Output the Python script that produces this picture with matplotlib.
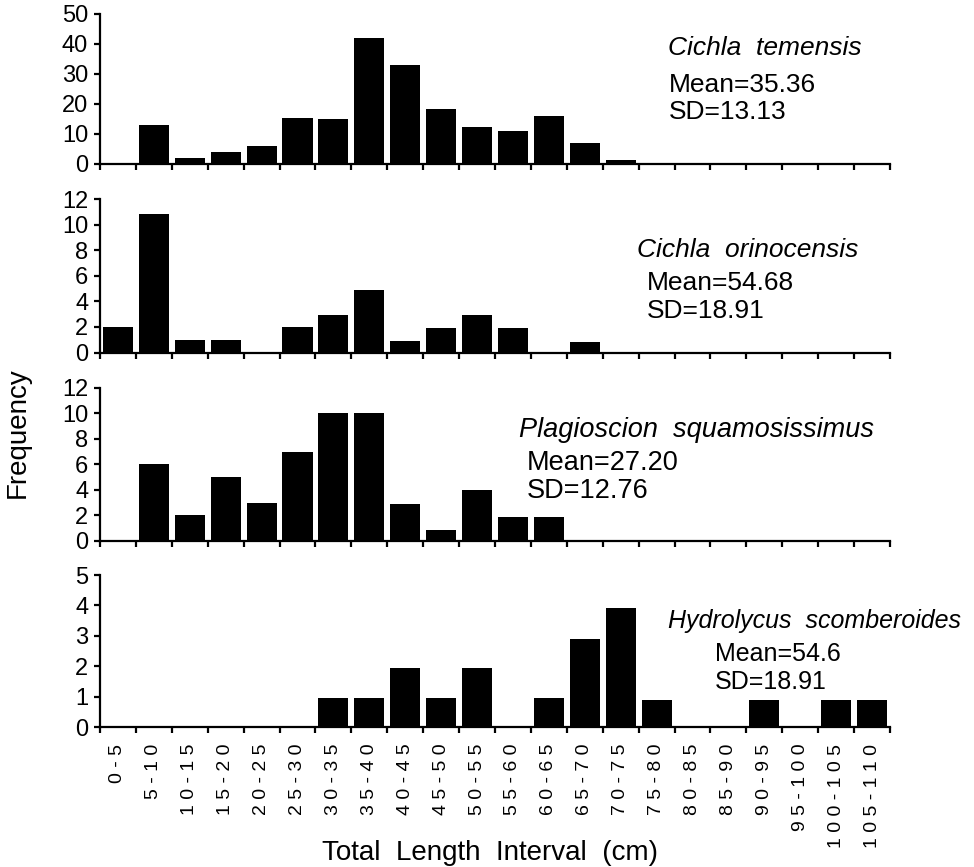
import matplotlib
matplotlib.use('Agg')
import matplotlib.pyplot as plt
import numpy as np

# ---- data ----
intervals = ["0-5", "5-10", "10-15", "15-20", "20-25", "25-30", "30-35", "35-40",
             "40-45", "45-50", "50-55", "55-60", "60-65", "65-70", "70-75", "75-80",
             "80-85", "85-90", "90-95", "95-100", "100-105", "105-110"]

temensis = [0, 13, 2, 4, 6, 15.5, 15, 42, 33, 18.5, 12.5, 11, 16, 7, 1.2,
            0, 0, 0, 0, 0, 0, 0]
orinocensis = [2, 10.8, 1, 1, 0, 2, 2.9, 4.9, 0.9, 1.9, 2.9, 1.9, 0, 0.8, 0,
               0, 0, 0, 0, 0, 0, 0]
plagioscion = [0, 6, 2, 5, 3, 7, 10, 10, 2.9, 0.85, 4, 1.9, 1.9, 0, 0,
               0, 0, 0, 0, 0, 0, 0]
hydrolycus = [0, 0, 0, 0, 0, 0, 0.95, 0.95, 1.95, 0.95, 1.95, 0, 0.95, 2.9, 3.9,
              0.9, 0, 0, 0.9, 0, 0.9, 0.9]

species = ["Cichla  temensis", "Cichla  orinocensis",
           "Plagioscion  squamosissimus", "Hydrolycus  scomberoides"]
means = ["Mean=35.36", "Mean=54.68", "Mean=27.20", "Mean=54.6"]
sds = ["SD=13.13", "SD=18.91", "SD=12.76", "SD=18.91"]
ymax = [50, 12, 12, 5]
ystep = [10, 2, 2, 1]
series = [temensis, orinocensis, plagioscion, hydrolycus]

plt.rcParams['font.family'] = ['Liberation Sans', 'DejaVu Sans']

W, H = 974, 867
fig = plt.figure(figsize=(W / 100, H / 100), dpi=100)

def fx(px):
    return px / W

def fy(py):
    return 1 - py / H

# panel pixel extents (top, bottom)
panels = [(14, 164), (199, 352.5), (388, 540.7), (575, 727)]
left_px, right_px = 100, 890

# text positions (left x of title, left x of stats, y centers for title, mean, sd)
text_pos = [
    (668, 669, 48, 85, 112),
    (637, 647, 250, 283, 311),
    (519, 527, 430, 463, 491),
    (668, 715, 621, 654, 682),
]
text_size = [19, 19, 19.5, 18]

n = len(intervals)
x = np.arange(n) + 0.5

for i, (top, bot) in enumerate(panels):
    ax = fig.add_axes([fx(left_px), fy(bot), fx(right_px - left_px), (bot - top) / H])
    ax.bar(x, series[i], width=0.84, color='black', edgecolor='none')
    ax.set_xlim(0, n)
    ax.set_ylim(0, ymax[i])
    ax.set_yticks(np.arange(0, ymax[i] + 0.01, ystep[i]))
    for s in ['top', 'right']:
        ax.spines[s].set_visible(False)
    for s in ['left', 'bottom']:
        ax.spines[s].set_linewidth(1.6)
    ax.set_xticks(np.arange(0, n + 1))
    ax.tick_params(axis='both', which='major', direction='out', length=4.5,
                   width=1.6, labelsize=17, pad=4)
    ax.set_xticklabels([])
    if i == 3:
        ax.set_xticks(x, minor=True)
        ax.set_xticklabels([" ".join(lab) for lab in intervals], minor=True,
                           rotation=90, fontsize=14, va='top', ha='center')
        ax.tick_params(axis='x', which='minor', length=0, pad=12)
    # annotations
    tx, mx, ty, my, sy = text_pos[i]
    fs = text_size[i]
    fig.text(fx(tx), fy(ty), species[i], fontsize=fs, style='italic',
             ha='left', va='center')
    fig.text(fx(mx), fy(my), means[i], fontsize=fs, ha='left', va='center')
    fig.text(fx(mx), fy(sy), sds[i], fontsize=fs, ha='left', va='center')

fig.text(fx(18), fy(433), "Frequency", rotation=90, fontsize=20,
         ha='center', va='center')
fig.text(fx(490), fy(853), "Total  Length  Interval  (cm)", fontsize=20,
         ha='center', va='center')

fig.savefig("out.png", dpi=100)
